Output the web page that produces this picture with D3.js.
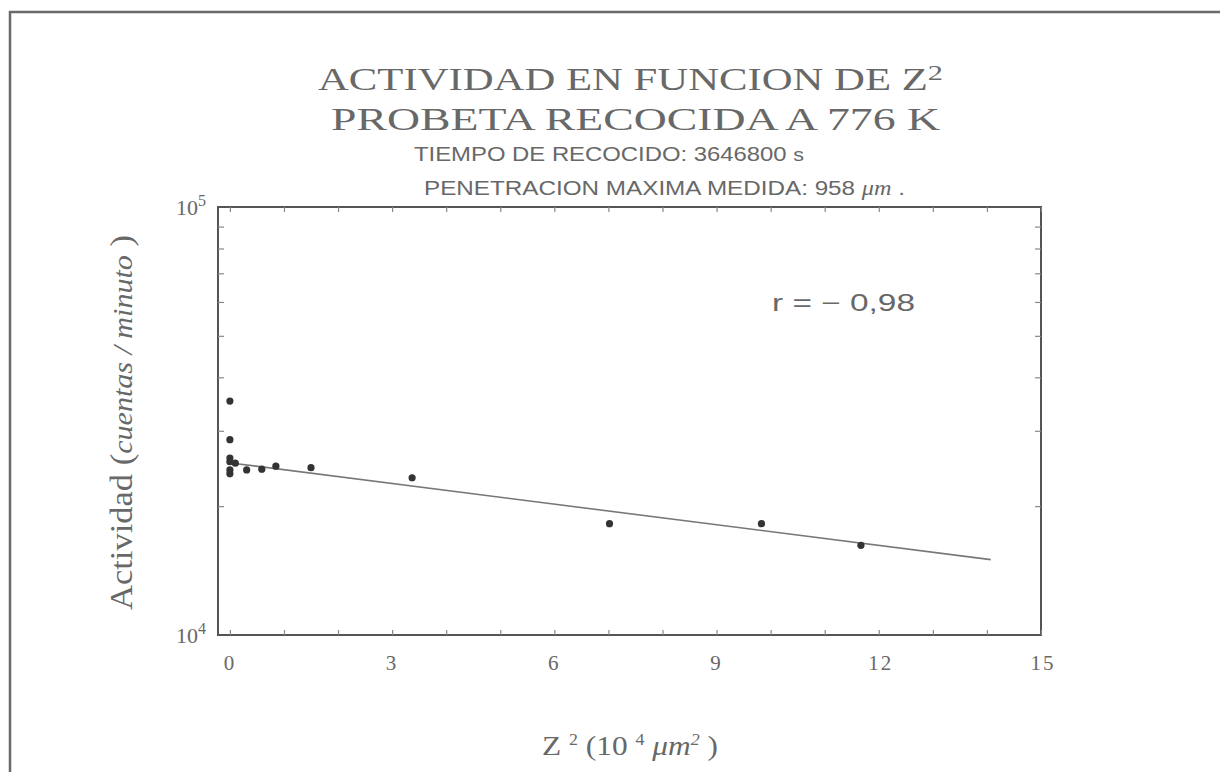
<!DOCTYPE html>
<html><head><meta charset="utf-8">
<script src="https://cdn.jsdelivr.net/npm/d3@7"></script>
<style>
html,body{margin:0;padding:0;background:#fff;}
svg{display:block;}
</style></head>
<body>
<svg id="chart" width="1220" height="772"></svg>
<script>
// ---- data ----
const z2 = [0.0, 0.0, 0.0, 0.0, 0.0, 0.0, 0.1, 0.31, 0.59, 0.85, 1.5, 3.37, 7.02, 9.83, 11.67];
const actividad = [35200, 28600, 25900, 25400, 24300, 23800, 25200, 24300, 24400, 24800, 24600, 23300, 18200, 18200, 16200];
const fitX = [0.05, 14.07];
const fitY = [25200, 15000];
const xTickLabels = [0, 3, 6, 9, 12, 15];
const xMinorTicks = d3.range(0, 16, 1);
const yTickExp = [4, 5];
const yMinorTicks = [20000, 30000, 40000, 50000, 60000, 70000, 80000, 90000];

const svg = d3.select("#chart");
const grey = "#686868", axisCol = "#555";

// outer frame
svg.append("path").attr("d", "M10,800 L10,12 L1230,12")
  .attr("fill", "none").attr("stroke", "#6a6a6a").attr("stroke-width", 2.5);

const L = 218, R = 1041, T = 207, B = 635;
const x = d3.scaleLinear().domain([-0.22, 15]).range([L, R]);
const y = d3.scaleLog().domain([1e4, 1e5]).range([B, T]);

const serif = "'Liberation Serif','DejaVu Serif',serif";
const sans = "'Liberation Sans','DejaVu Sans',sans-serif";

// titles
const t1 = svg.append("text").attr("x", 318).attr("y", 90)
  .attr("font-family", serif).attr("font-size", 31).attr("fill", grey)
  .attr("textLength", 625).attr("lengthAdjust", "spacingAndGlyphs");
t1.append("tspan").text("ACTIVIDAD EN FUNCION DE Z");
t1.append("tspan").attr("dy", -10).attr("font-size", 22).text("2");
svg.append("text").attr("x", 331).attr("y", 130)
  .attr("font-family", serif).attr("font-size", 31).attr("fill", grey)
  .attr("textLength", 609).attr("lengthAdjust", "spacingAndGlyphs")
  .text("PROBETA RECOCIDA A 776 K");
const t3 = svg.append("text").attr("x", 414).attr("y", 161)
  .attr("font-family", sans).attr("font-size", 20).attr("fill", grey)
  .attr("textLength", 390).attr("lengthAdjust", "spacingAndGlyphs");
t3.append("tspan").text("TIEMPO DE RECOCIDO: 3646800 ");
t3.append("tspan").attr("font-size", 18).text("s");
const t4 = svg.append("text").attr("x", 424).attr("y", 195)
  .attr("font-family", sans).attr("font-size", 20).attr("fill", grey)
  .attr("textLength", 481).attr("lengthAdjust", "spacingAndGlyphs");
t4.append("tspan").text("PENETRACION MAXIMA MEDIDA: 958 ");
t4.append("tspan").attr("font-family", serif).attr("font-style", "italic").text("μm");
t4.append("tspan").text(" .");

// plot frame
svg.append("rect").attr("x", L).attr("y", T).attr("width", R - L).attr("height", B - T)
  .attr("fill", "none").attr("stroke", axisCol).attr("stroke-width", 2);

// ticks (inward)
const gxb = svg.append("g").attr("transform", `translate(0,${B})`)
  .call(d3.axisBottom(x).tickValues(xMinorTicks).tickSize(-5).tickFormat(""));
const gxt = svg.append("g").attr("transform", `translate(0,${T})`)
  .call(d3.axisTop(x).tickValues(xMinorTicks).tickSize(-5).tickFormat(""));
const gyl = svg.append("g").attr("transform", `translate(${L},0)`)
  .call(d3.axisLeft(y).tickValues(yMinorTicks).tickSize(-6).tickFormat(""));
const gyr = svg.append("g").attr("transform", `translate(${R},0)`)
  .call(d3.axisRight(y).tickValues(yMinorTicks).tickSize(-6).tickFormat(""));
[gxb, gxt, gyl, gyr].forEach(g => {
  g.select(".domain").remove();
  g.selectAll("line").attr("stroke", "#888").attr("stroke-width", 1.2);
});

// x tick labels
svg.append("g").selectAll("text").data(xTickLabels).join("text")
  .attr("x", d => x(d) + (d >= 10 ? 2 : 0)).attr("y", 670).attr("text-anchor", "middle")
  .attr("font-family", serif).attr("font-size", 21).attr("fill", grey)
  .attr("letter-spacing", 2)
  .text(d => d);

// y tick labels
const yl = svg.append("g").selectAll("text").data(yTickExp).join("text")
  .attr("x", 206).attr("y", d => y(Math.pow(10, d)) + 8).attr("text-anchor", "end")
  .attr("font-family", serif).attr("font-size", 22).attr("fill", grey);
yl.append("tspan").text("10");
yl.append("tspan").attr("dy", -9).attr("font-size", 16).text(d => d);

// axis titles
const xt = svg.append("text").attr("x", 542).attr("y", 755)
  .attr("font-family", serif).attr("font-size", 28).attr("fill", grey)
  .attr("textLength", 176).attr("lengthAdjust", "spacingAndGlyphs");
xt.append("tspan").text("Z ");
xt.append("tspan").attr("dy", -10).attr("font-size", 16).text("2");
xt.append("tspan").attr("dy", 10).text("  (10 ");
xt.append("tspan").attr("dy", -10).attr("font-size", 16).text("4");
xt.append("tspan").attr("dy", 10).text("  ");
xt.append("tspan").attr("font-style", "italic").text("μm");
xt.append("tspan").attr("dy", -10).attr("font-size", 16).attr("font-style", "italic").text("2");
xt.append("tspan").attr("dy", 10).text(" )");

const yt = svg.append("text").attr("transform", "translate(132,610) rotate(-90)")
  .attr("font-family", serif).attr("font-size", 31).attr("fill", grey)
  .attr("textLength", 375).attr("lengthAdjust", "spacingAndGlyphs");
yt.append("tspan").text("Actividad ");
yt.append("tspan").text("(");
yt.append("tspan").attr("font-style", "italic").attr("font-size", 27).text("cuentas / minuto");
yt.append("tspan").text(" )");

// r label
svg.append("text").attr("x", 772).attr("y", 311)
  .attr("font-family", sans).attr("font-size", 23).attr("fill", grey)
  .attr("textLength", 143).attr("lengthAdjust", "spacingAndGlyphs")
  .text("r = − 0,98");

// fit line
svg.append("line")
  .attr("x1", x(fitX[0])).attr("y1", y(fitY[0]))
  .attr("x2", x(fitX[1])).attr("y2", y(fitY[1]))
  .attr("stroke", "#777").attr("stroke-width", 1.6);

// points
svg.append("g").selectAll("circle").data(z2.map((d, i) => [d, actividad[i]])).join("circle")
  .attr("cx", d => x(d[0])).attr("cy", d => y(d[1])).attr("r", 3.6)
  .attr("fill", "#333");
</script>
</body></html>
